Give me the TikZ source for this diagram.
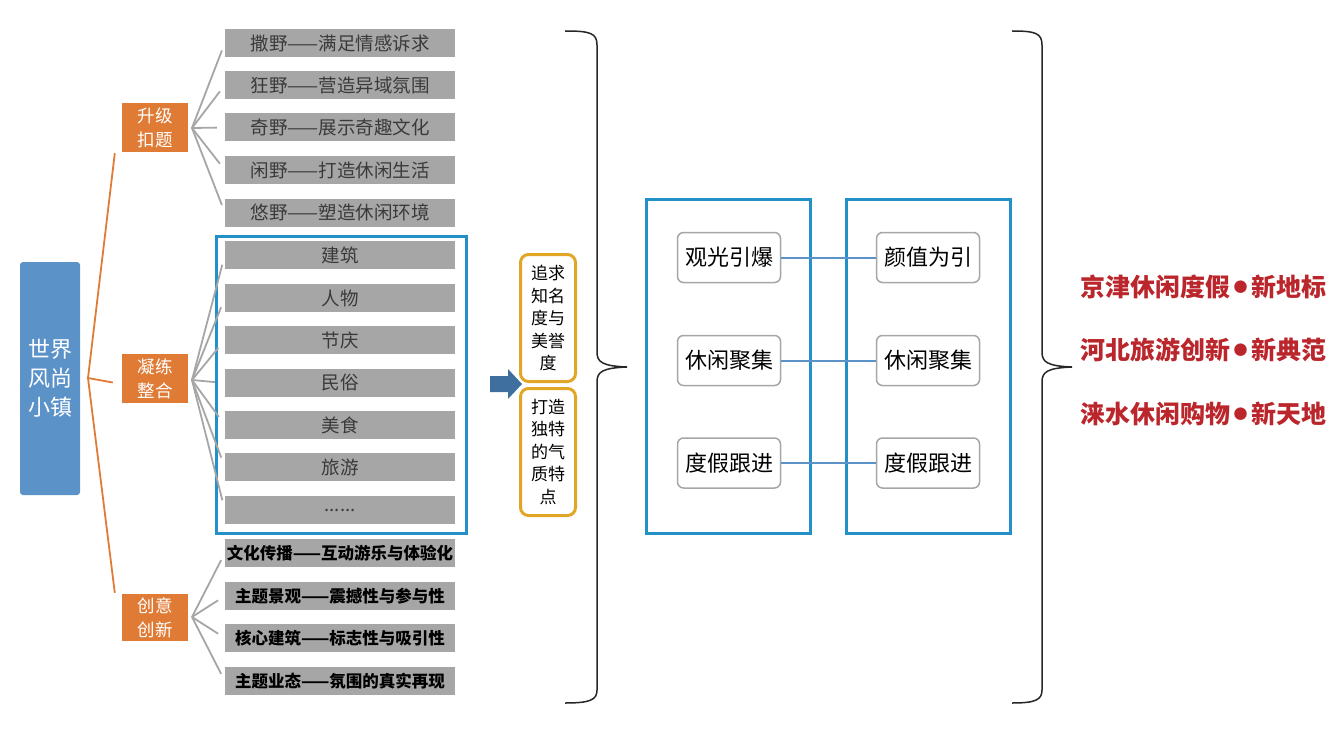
\documentclass[tikz,border=0pt]{standalone}
\usepackage{fontspec}
\setmainfont{Noto Sans CJK SC}
\usetikzlibrary{calc}
\definecolor{rootblue}{HTML}{5B93C9}
\definecolor{orangebg}{HTML}{E07B36}
\definecolor{boxgray}{HTML}{A6A6A6}
\definecolor{txtgray}{HTML}{3A3A3A}
\definecolor{frameblue}{HTML}{2391C7}
\definecolor{goldline}{HTML}{E2A626}
\definecolor{arrowblue}{HTML}{3F6F9F}
\definecolor{redtxt}{HTML}{BA262B}
\newcommand{\reddot}{\makebox[21pt]{\raisebox{4pt}{\fontsize{14}{14}\selectfont ●}}}
\begin{document}
\begin{tikzpicture}[x=1pt,y=-1pt,
  graybox/.style={fill=boxgray, minimum width=230pt, minimum height=28pt, inner sep=0pt, text=txtgray, font=\fontsize{18.5}{20}\selectfont},
  boldbox/.style={graybox, text=black, font=\fontsize{16.5}{18}\selectfont\bfseries},
  orangebox/.style={fill=orangebg, text=white, minimum width=66pt, minimum height=49pt, inner sep=0pt, align=center, font=\fontsize{17.5}{24}\selectfont},
  rootbox/.style={fill=rootblue, text=white, rounded corners=3pt, minimum width=60pt, minimum height=233pt, inner sep=0pt, align=center, font=\fontsize{22}{29}\selectfont},
  goldbox/.style={draw=goldline, line width=3pt, rounded corners=8pt, minimum width=55pt, minimum height=127pt, inner sep=0pt, align=center, font=\fontsize{17}{22.5}\selectfont},
  framebox/.style={draw=frameblue, line width=3pt, inner sep=0pt},
  whitebox/.style={draw=boxgray, line width=1.5pt, rounded corners=6pt, fill=white, minimum width=103pt, minimum height=50pt, inner sep=0pt, font=\fontsize{22}{24}\selectfont},
  redtext/.style={text=redtxt, anchor=west, inner sep=0pt, font=\fontsize{25}{28}\selectfont\bfseries},
  oline/.style={draw=orangebg, line width=1.8pt},
  gline/.style={draw=boxgray, line width=1.8pt},
  bline/.style={draw=rootblue, line width=2pt},
  bracepath/.style={draw=black!85, line width=1.5pt}
]
\useasboundingbox (0,0) rectangle (1340,730);

% root
\node[rootbox] (root) at (50,378.5) {世界\\风尚\\小镇};
\coordinate (rj) at (88,378);

% orange boxes
\node[orangebox] (o1) at (155,127.5) {升级\\扣题};
\node[orangebox] (o2) at (155,378.5) {凝练\\整合};
\node[orangebox, minimum height=47pt] (o3) at (155,617.5) {创意\\创新};

\draw[oline] (rj) -- ($(o1.south west)+(-7,1)$);
\draw[oline] (rj) -- ($(o2.west)+(-9,4)$);
\draw[oline] (rj) -- ($(o3.north west)+(-7,-1)$);

% top gray boxes
\node[graybox] (t1) at (340,43) {撒野——满足情感诉求};
\node[graybox] (t2) at (340,85) {狂野——营造异域氛围};
\node[graybox] (t3) at (340,127.5) {奇野——展示奇趣文化};
\node[graybox] (t4) at (340,170) {闲野——打造休闲生活};
\node[graybox] (t5) at (340,212.5) {悠野——塑造休闲环境};

\coordinate (j1) at (192,128);
\foreach \b in {t1,t2,t3,t4,t5}{\draw[gline, shorten >=8pt] (j1) -- (\b.west);}

% middle frame and boxes
\node[framebox, minimum width=250pt, minimum height=297pt] (mframe) at (341.5,385) {};
\node[graybox] (m1) at (340,255) {建筑};
\node[graybox] (m2) at (340,298) {人物};
\node[graybox] (m3) at (340,340) {节庆};
\node[graybox] (m4) at (340,383) {民俗};
\node[graybox] (m5) at (340,425) {美食};
\node[graybox] (m6) at (340,467) {旅游};
\node[graybox] (m7) at (340,510) {......};

\coordinate (j2) at (192,380);
\foreach \b in {m1,m2,m3,m4,m5,m6,m7}{\draw[gline, shorten >=10pt] (j2) -- (\b.west);}

% bottom boxes
\node[boldbox] (b1) at (340,553) {文化传播——互动游乐与体验化};
\node[boldbox] (b2) at (340,596) {主题景观——震撼性与参与性};
\node[boldbox] (b3) at (340,638) {核心建筑——标志性与吸引性};
\node[boldbox] (b4) at (340,681) {主题业态——氛围的真实再现};

\coordinate (j3) at (192,617);
\foreach \b in {b1,b2,b3,b4}{\draw[gline, shorten >=8pt] (j3) -- (\b.west);}

% blue arrow
\fill[arrowblue] (490,376) -- (508,376) -- (508,369) -- (522,384) -- (508,399) -- (508,392) -- (490,392) -- cycle;

% gold boxes
\node[goldbox] (g1) at (548,318) {追求\\知名\\度与\\美誉\\度};
\node[goldbox] (g2) at (548,452) {打造\\独特\\的气\\质特\\点};

% left brace
\draw[bracepath] (565,31) .. controls (590,31) and (597,33) .. (597,45) -- (597,352)
  .. controls (597,362) and (602,366) .. (627,367)
  .. controls (602,368) and (597,372) .. (597,382) -- (597,690)
  .. controls (597,700) and (590,703) .. (565,703);

% middle frames
\node[framebox, minimum width=164pt, minimum height=334pt] (f1) at (728.5,366.5) {};
\node[framebox, minimum width=164pt, minimum height=334pt] (f2) at (928.5,366.5) {};

\node[whitebox] (l1) at (729,257.5) {观光引爆};
\node[whitebox] (l2) at (729,360.5) {休闲聚集};
\node[whitebox] (l3) at (729,463) {度假跟进};
\node[whitebox] (r1) at (928,257.5) {颜值为引};
\node[whitebox] (r2) at (928,360.5) {休闲聚集};
\node[whitebox] (r3) at (928,463) {度假跟进};

\draw[bline] (l1.east) -- (r1.west);
\draw[bline] (l2.east) -- (r2.west);
\draw[bline] (l3.east) -- (r3.west);

% right brace
\draw[bracepath] (1012,31) .. controls (1035,31) and (1042,33) .. (1042,45) -- (1042,352)
  .. controls (1042,362) and (1047,366) .. (1072,367)
  .. controls (1047,368) and (1042,372) .. (1042,382) -- (1042,690)
  .. controls (1042,700) and (1035,703) .. (1012,703);

% red texts
\node[redtext] (x1) at (1080,287) {京津休闲度假\reddot 新地标};
\node[redtext] (x2) at (1080,350) {河北旅游创新\reddot 新典范};
\node[redtext] (x3) at (1080,414) {涞水休闲购物\reddot 新天地};
\end{tikzpicture}
\end{document}
